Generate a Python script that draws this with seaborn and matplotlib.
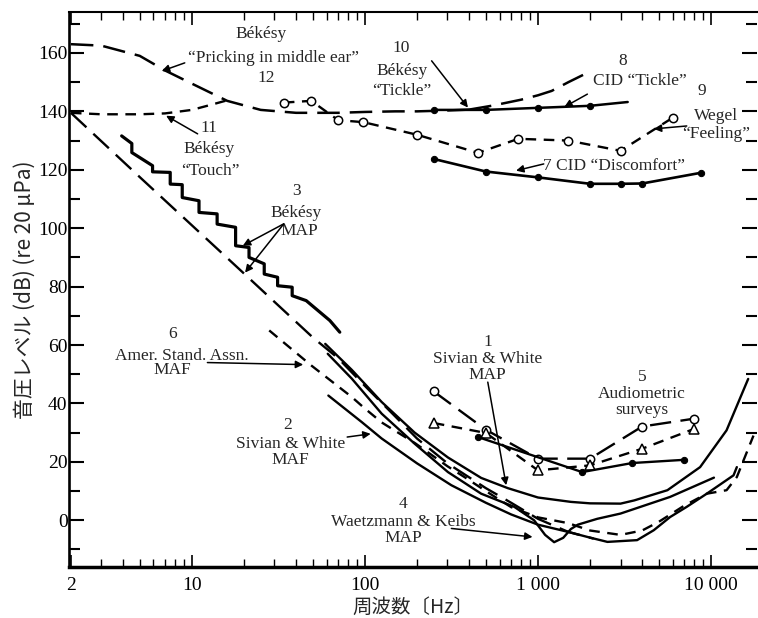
import numpy as np
import pandas as pd
import matplotlib
matplotlib.use("Agg")
import matplotlib.pyplot as plt
import seaborn as sns

# ---------------- data (Hz, dB) ----------------
# 12 Bekesy "Pricking in middle ear" (long dash)
pricking_f = [2, 3, 5, 7, 10, 16, 25, 40, 70, 100, 150, 200, 300, 400]
pricking_db = [163, 162.5, 159, 154, 149.5, 143.6, 140.5, 139.5, 139.5, 139.8, 140, 140, 140.3, 140.6]
# 10 Bekesy "Tickle" (long dash)
tickle_b_f = [400, 550, 800, 1000, 1200, 1500, 1900]
tickle_b_db = [140.6, 142, 144, 145.5, 147, 150, 153]
# 11 Bekesy "Touch" (short dash)
touch_f = [2, 3, 5, 7, 10, 13, 16.5]
touch_db = [139.5, 139, 139, 139.3, 140.5, 142.3, 144]
# 9 Wegel "Feeling" (short dash, open circles)
wegel_f = [34, 49, 70, 98, 200, 450, 770, 1500, 3000, 6000]
wegel_db = [143, 143.6, 137, 136.3, 132, 125.8, 130.6, 130, 126.5, 137.8]
# 8 CID "Tickle" (solid, dots)
cid_tickle_f = [250, 500, 1000, 2000, 3300]
cid_tickle_db = [140.5, 140.5, 141.2, 141.9, 143.2]
# 7 CID "Discomfort" (solid, dots)
cid_disc_f = [250, 500, 1000, 2000, 3000, 4000, 8800]
cid_disc_db = [123.7, 119.4, 117.4, 115.2, 115.2, 115.3, 119]
# 3 Bekesy MAP (tracking staircase, solid)
bek_map_f = [3.93, 4.5, 4.5, 5.93, 5.93, 7.5, 7.5, 8.8, 8.8, 11, 11, 14, 14, 17.9, 17.9,
             21.4, 21.4, 26.2, 26.2, 31.3, 31.3, 38, 38, 45.8, 62.7, 71.6]
bek_map_db = [131.6, 129, 125.9, 121.4, 119.3, 119.1, 115.1, 114.9, 110.5, 109.4, 105.4,
              104.9, 101.4, 100.3, 94, 93.4, 90, 87.8, 84.3, 83.2, 80.3, 79.8, 76.9, 75.2,
              68.4, 64.4]
# 3 Bekesy MAP (long dash)
bek_dash_f = [2, 5, 10, 20, 30, 50, 70, 100, 150, 200, 300, 500, 700, 1000, 1500, 2100]
bek_dash_db = [139.5, 117.5, 101, 84.5, 74.8, 62.6, 55.5, 46, 35.5, 28, 19.5, 11, 6, 0.5, -4, -6.3]
# 6 Amer. Stand. Assn. MAF (short dash)
asa_f = [28, 49, 84, 98, 125, 196, 300, 383, 500, 700, 1000, 1500, 2000, 3000, 4000,
         5000, 7000, 9450, 12300, 14100, 17600]
asa_db = [65, 53, 42.2, 38.7, 33.5, 26.3, 18.5, 14.5, 10, 4.5, 1, -1, -3.5, -5, -3.5,
          -0.5, 5, 9.1, 10.3, 14.8, 29]
# 1 Sivian & White MAP (solid)
sw_map_f = [59, 84, 125, 194, 302, 470, 670, 1000, 1550, 2000, 3000, 3600, 5600, 8650,
            12300, 16400]
sw_map_db = [60.4, 51.5, 40.5, 30, 21.5, 14.5, 11, 7.8, 6.3, 5.8, 5.7, 6.8, 10.3, 18.2,
             30.8, 48.4]
# 2 Sivian & White MAF (solid)
sw_maf_f = [61.5, 96, 125, 200, 316, 500, 700, 1000, 1500, 1930, 2520, 3740, 4670, 5800,
            7240, 9450, 13500, 14100]
sw_maf_db = [42.7, 33.6, 28, 19.5, 12, 6, 2, -1.5, -4, -5.7, -7.4, -6.8, -3.4, 1.1, 4.6,
             9.1, 15.4, 18.2]
# 4 Waetzmann & Keibs MAP (solid)
wk_f = [61, 84, 125, 194, 302, 470, 730, 950, 1100, 1240, 1400, 1550, 1700, 2200, 3000,
        5800, 10400]
wk_db = [57, 48.5, 36.5, 26.2, 16.5, 9.1, 4.6, 0, -5, -7.5, -6, -3, -1.5, 0.5, 2.3, 8, 14.6]
# 5 Audiometric surveys
aud_circ_f = [250, 500, 1000, 2000, 4000, 8000]
aud_circ_db = [44.1, 31, 21.1, 21.1, 32.1, 34.8]
aud_tri_f = [250, 500, 1000, 2000, 4000, 8000]
aud_tri_db = [33.3, 29.9, 17.1, 18.8, 24.5, 31.3]
aud_dot_f = [450, 1800, 3500, 7000]
aud_dot_db = [28.5, 16.5, 19.6, 20.7]

x_ticks = [2, 10, 100, 1000, 10000]
x_ticklabels = ["2", "10", "100", "1 000", "10 000"]
y_ticks = [0, 20, 40, 60, 80, 100, 120, 140, 160]

# ---------------- style ----------------
sns.set_style("ticks")
SERIF = ["Liberation Serif", "DejaVu Serif"]
CJK = ["Noto Sans CJK JP", "DejaVu Sans"]
plt.rcParams["font.family"] = SERIF

fig = plt.figure(figsize=(7.58, 6.18), dpi=100)
ax = fig.add_axes([0.091, 0.0825, 0.908, 0.898])

LONG = (0, (9, 4))
SHORT = (0, (4.5, 3.2))

def line(f, db, ls="-", lw=1.6, **kw):
    df = pd.DataFrame({"f": f, "db": db})
    sns.lineplot(data=df, x="f", y="db", ax=ax, color="black", lw=lw, linestyle=ls,
                 estimator=None, sort=False, **kw)

line(pricking_f, pricking_db, LONG, 1.8)
line(tickle_b_f, tickle_b_db, LONG, 1.8)
line(touch_f, touch_db, SHORT, 1.7)
line(wegel_f, wegel_db, SHORT, 1.7, marker="o", markersize=6, mfc="white", mec="black", mew=1.1)
line(cid_tickle_f, cid_tickle_db, "-", 1.8, marker="o", markersize=4.5, mfc="black",
     mec="black", markevery=[0, 1, 2, 3])
line(cid_disc_f, cid_disc_db, "-", 1.9, marker="o", markersize=4.5, mfc="black", mec="black")
line(bek_map_f, bek_map_db, "-", 2.3)
line(bek_dash_f, bek_dash_db, LONG, 1.7)
line(asa_f, asa_db, SHORT, 1.7)
line(sw_map_f, sw_map_db, "-", 1.7)
line(sw_maf_f, sw_maf_db, "-", 1.7)
line(wk_f, wk_db, "-", 1.7)
line(aud_circ_f, aud_circ_db, LONG, 1.7, marker="o", markersize=6, mfc="white", mec="black", mew=1.1)
line(aud_tri_f, aud_tri_db, SHORT, 1.7, marker="^", markersize=6.5, mfc="white", mec="black", mew=1.1)
line(aud_dot_f, aud_dot_db, "-", 1.7, marker="o", markersize=4.5, mfc="black", mec="black")

ax.set_xscale("log")
ax.set_xlim(1.95, 18500)
ax.set_ylim(-16, 174)

ax.set_xticks(x_ticks)
ax.set_xticklabels(x_ticklabels)
ax.set_yticks(y_ticks)
ax.set_yticks(np.arange(-10, 171, 10), minor=True)
ax.xaxis.set_minor_locator(matplotlib.ticker.LogLocator(base=10, subs=np.arange(2, 10)))
ax.xaxis.set_minor_formatter(matplotlib.ticker.NullFormatter())
ax.tick_params(axis="both", which="both", direction="in", colors="black",
               top=True, right=True, labelsize=14)
ax.tick_params(axis="y", which="major", length=11, width=1.5, pad=1)
ax.tick_params(axis="y", which="minor", length=8, width=1.5)
ax.tick_params(axis="x", which="major", length=9, width=1.2, pad=7)
ax.tick_params(axis="x", which="minor", length=6, width=1.0)
for lab in ax.get_xticklabels() + ax.get_yticklabels():
    lab.set_family(SERIF)

ax.spines["right"].set_visible(False)
ax.spines["left"].set_linewidth(1.9)
ax.spines["bottom"].set_linewidth(2.5)
ax.spines["top"].set_linewidth(1.5)
for s in ax.spines.values():
    s.set_color("black")

ax.set_xlabel("周波数〔Hz〕", family=CJK, fontsize=14, labelpad=2)
ax.set_ylabel("音圧レベル (dB) (re 20 μPa)", family=CJK, fontsize=15, labelpad=2)

# ---------------- annotations ----------------
TS = 12.5
def txt(x, y, s, **kw):
    ax.text(x, y, s, ha="center", va="center", fontsize=TS, family=SERIF, **kw)

def arrow(x0, y0, x1, y1):
    ax.annotate("", xy=(x1, y1), xytext=(x0, y0),
                arrowprops=dict(arrowstyle="-|>", color="black", lw=1.1,
                                mutation_scale=11, shrinkA=0, shrinkB=0))

txt(25, 166.5, "Békésy")
txt(29.5, 158.3, "\u201cPricking in middle ear\u201d")
txt(27, 151.5, "12")
arrow(9.1, 156.6, 6.7, 153.8)

txt(12.6, 134.4, "11")
txt(12.6, 127, "Békésy")
txt(12.8, 119.7, "\u201cTouch\u201d")
arrow(10.8, 132.3, 7.1, 138.5)

txt(40, 112.8, "3")
txt(40, 105.3, "Békésy")
txt(42, 99, "MAP")
arrow(34, 101.5, 19.7, 94)
arrow(34, 101.5, 20.3, 84.8)

txt(163, 161.7, "10")
txt(163, 153.8, "Békésy")
txt(163, 147, "\u201cTickle\u201d")
arrow(243, 157.3, 394, 141.3)

txt(3070, 157.3, "8")
txt(3900, 150.4, "CID \u201cTickle\u201d")
arrow(1930, 145.9, 1420, 141.5)

txt(8860, 147, "9")
txt(10700, 138.5, "Wegel")
txt(10700, 132.3, "\u201cFeeling\u201d")
arrow(7240, 135, 4670, 134)

txt(2750, 121.4, "7 CID \u201cDiscomfort\u201d")
arrow(1080, 122, 747, 119.7)

txt(7.7, 63.9, "6")
txt(8.7, 56.4, "Amer. Stand. Assn.")
txt(7.7, 51.3, "MAF")
arrow(12.3, 54, 44, 53.3)

txt(36, 32.5, "2")
txt(37, 26.2, "Sivian & White")
txt(37, 20.5, "MAF")
arrow(79, 28.5, 108, 29.6)

txt(513, 61, "1")
txt(513, 55.3, "Sivian & White")
txt(513, 49.6, "MAP")
arrow(513, 47.3, 655, 12)

txt(166, 5.7, "4")
txt(166, -0.7, "Waetzmann & Keibs")
txt(166, -6.2, "MAP")
arrow(316, -2.8, 930, -5.7)

txt(4000, 49, "5")
txt(4000, 43.4, "Audiometric")
txt(4000, 37.6, "surveys")

fig.savefig("out.png", dpi=100)
